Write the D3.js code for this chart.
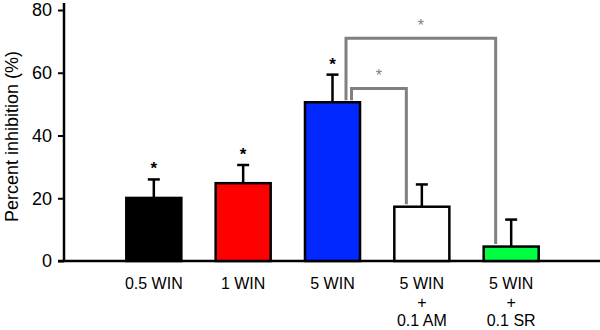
<!DOCTYPE html>
<html><head><meta charset="utf-8">
<script src="https://cdn.jsdelivr.net/npm/d3@7"></script>
<style>body{margin:0;background:#fff}svg{display:block}text{font-family:"Liberation Sans",Arial,sans-serif}</style>
</head><body><svg id="c" width="600" height="330"></svg>
<script>
const categories = ["0.5 WIN", "1 WIN", "5 WIN", "5 WIN|+|0.1 AM", "5 WIN|+|0.1 SR"];
const means = [20.1, 24.8, 50.6, 17.3, 4.6];
const sems = [5.9, 5.8, 8.8, 7.1, 8.6];
const colors = ["#000000", "#ff0000", "#0028ff", "#ffffff", "#00ff40"];
const starred = [true, true, true, false, false];
const yTicks = [0, 20, 40, 60, 80];
const brackets = [{from: 2, to: 3, level: 55}, {from: 2, to: 4, level: 71}];

const svg = d3.select("#c");
const y = d3.scaleLinear().domain([0, 80]).range([261, 10]);
const x = d3.scaleBand().domain(categories).range([92, 573]).paddingInner(0.384).paddingOuter(0.384);
const bw = x.bandwidth();

// axes
const yAxis = d3.axisLeft(y).tickValues(yTicks).tickSize(6).tickPadding(6);
const gy = svg.append("g").attr("transform", "translate(64,0)").call(yAxis);
gy.select(".domain").remove();
gy.selectAll(".tick line").attr("stroke", "#000").attr("stroke-width", 2);
gy.selectAll(".tick text").attr("font-size", 18).attr("fill", "#000").attr("font-family", "Liberation Sans, Arial, sans-serif");
svg.append("line").attr("x1", 64).attr("x2", 64).attr("y1", 3).attr("y2", y(0) + 1).attr("stroke", "#000").attr("stroke-width", 2.5);
svg.append("line").attr("x1", 58).attr("x2", 600).attr("y1", y(0)).attr("y2", y(0)).attr("stroke", "#000").attr("stroke-width", 2.5);

svg.append("text").attr("transform", `translate(18,${(48 + 225) / 2}) rotate(-90)`)
  .attr("text-anchor", "middle").attr("font-size", 18).attr("fill", "#000").text("Percent inhibition (%)");

// brackets
const bx = (i, side) => x(categories[i]) + bw / 2 + side;
brackets.forEach((b, k) => {
  const xl = bx(b.from, k === 0 ? 19 : 13.5);
  const xr = bx(b.to, -15.5);
  const yt = y(b.level);
  const yl = y(means[b.from]) - 2;
  const yr = y(means[b.to]) - 2.5;
  svg.append("path").attr("d", `M${xl},${yl}V${yt}H${xr}V${yr}`)
    .attr("fill", "none").attr("stroke", "#808080").attr("stroke-width", 3);
  svg.append("text").attr("x", (xl + xr) / 2).attr("y", yt - 7).attr("text-anchor", "middle")
    .attr("font-size", 16).attr("fill", "#808080").text("*");
});

// error bars
categories.forEach((c, i) => {
  const cx = x(c) + bw / 2;
  svg.append("line").attr("x1", cx).attr("x2", cx).attr("y1", y(means[i])).attr("y2", y(means[i] + sems[i]))
    .attr("stroke", "#000").attr("stroke-width", 2.5);
  svg.append("line").attr("x1", cx - 6).attr("x2", cx + 6).attr("y1", y(means[i] + sems[i])).attr("y2", y(means[i] + sems[i]))
    .attr("stroke", "#000").attr("stroke-width", 2.5);
  if (starred[i]) svg.append("text").attr("x", cx).attr("y", y(means[i] + sems[i]) - 5).attr("text-anchor", "middle")
    .attr("font-size", 17).attr("font-weight", "bold").attr("fill", "#000").text("*");
});

// bars
svg.selectAll("rect.bar").data(categories).join("rect").attr("class", "bar")
  .attr("x", d => x(d)).attr("width", bw)
  .attr("y", (d, i) => y(means[i])).attr("height", (d, i) => y(0) - y(means[i]))
  .attr("fill", (d, i) => colors[i]).attr("stroke", "#000").attr("stroke-width", 2.5);

// x labels
categories.forEach(c => {
  const lines = c.split("|");
  const t = svg.append("text").attr("text-anchor", "middle").attr("font-size", 16).attr("fill", "#000");
  lines.forEach((l, j) => t.append("tspan").attr("x", x(c) + bw / 2).attr("y", 289 + j * 18.5).text(l));
});
</script></body></html>
